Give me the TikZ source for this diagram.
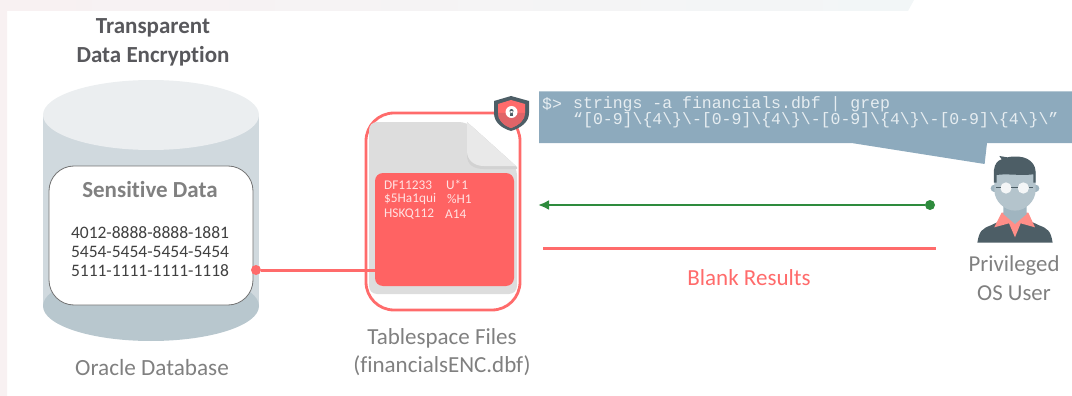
\documentclass[tikz,border=0pt]{standalone}
\usepackage{fontspec}
\setmainfont[Ligatures=NoCommon]{Carlito}
\newfontfamily\codefont{Liberation Mono}
\usetikzlibrary{arrows.meta}
\definecolor{cylbody}{HTML}{D0D9DE}
\definecolor{cyltop}{HTML}{EBEEF0}
\definecolor{cylbot}{HTML}{B8C7CE}
\definecolor{redline}{HTML}{FF6B6B}
\definecolor{redpanel}{HTML}{FF6363}
\definecolor{shieldlow}{HTML}{E06468}
\definecolor{filegray}{HTML}{DDDDDD}
\definecolor{foldgray}{HTML}{E9E9E9}
\definecolor{foldshade}{HTML}{D2D2D2}
\definecolor{bubble}{HTML}{8DAABD}
\definecolor{bubbletext}{HTML}{E6EDF1}
\definecolor{greenline}{HTML}{2E8B3D}
\definecolor{slatedark}{HTML}{4D5E66}
\definecolor{face}{HTML}{B4C4CC}
\definecolor{neck}{HTML}{A0B5C0}
\definecolor{collar}{HTML}{FF8E88}
\definecolor{bgleft}{HTML}{F8F1F2}
\definecolor{bgright}{HTML}{F2F6F7}
\definecolor{paneltext}{HTML}{FFE2E2}
\definecolor{softgray}{HTML}{808080}
\definecolor{titlegray}{HTML}{58585C}
\tikzset{
  x=1pt,y=-1pt,
  label/.style={inner sep=0,align=center,text=#1},
  sz/.style={node font=\fontsize{#1}{#1}\selectfont},
  paneltxt/.style={anchor=west,inner sep=0,text=paneltext,sz=13.3},
  codetxt/.style={anchor=west,inner sep=0,text=bubbletext,font=\codefont,sz=16.5},
  sensbox/.style={draw=black!55,line width=0.8pt,fill=white,rounded corners=25pt,minimum width=204pt,minimum height=139pt,inner sep=0},
  panelbox/.style={fill=redpanel,rounded corners=8pt,minimum width=139pt,minimum height=113pt,inner sep=0},
  reddot/.style={circle,fill=redline,minimum size=10pt,inner sep=0},
  greendot/.style={circle,fill=greenline,minimum size=10pt,inner sep=0},
  redconn/.style={draw=redline,line width=3pt},
  greenconn/.style={draw=greenline,line width=2.8pt,-{Latex[length=11pt,width=10pt]}},
}
\begin{document}
\begin{tikzpicture}
\useasboundingbox (0,0) rectangle (1072,396);
% pale background strip
\shade[left color=bgleft,right color=bgright]
  (0,0) -- (914,0) -- (908,11) -- (7,11) -- (7,396) -- (0,396) -- cycle;
% cylinder
\fill[cylbody] (43,115) rectangle (259,306);
\fill[cylbot] (151,306) ellipse [x radius=108,y radius=35];
\fill[cyltop] (151,115) ellipse [x radius=108,y radius=35];
\node[sensbox] (sens) at (151,235.5) {};
\node[label=titlegray,font=\bfseries,sz=23] (title1) at (153,28) {Transparent};
\node[label=titlegray,font=\bfseries,sz=23] (title2) at (153,56) {Data Encryption};
\node[label=softgray,font=\bfseries,sz=23] (senst) at (150,190) {Sensitive Data};
\node[label=black!75,sz=17.5] (n1) at (150,233) {4012-8888-8888-1881};
\node[label=black!75,sz=17.5] (n2) at (150,252) {5454-5454-5454-5454};
\node[label=black!75,sz=17.5] (n3) at (150,271) {5111-1111-1111-1118};
\node[label=softgray,sz=23.2] (oracle) at (152,368) {Oracle Database};
% file
\draw[redline,line width=2.8pt,rounded corners=28pt] (366,113) rectangle (520,310);
\fill[filegray,rounded corners=8pt] (369,122) -- (467,122) -- (517,167) -- (517,294) -- (369,294) -- cycle;
\fill[foldshade] (467,122) -- (467,155) .. controls (467,165) and (474,169) .. (484,169) -- (517,169) -- (517,167) -- cycle;
\fill[foldgray] (467,122) -- (467,151) .. controls (467,160) and (474,166) .. (484,166) -- (516,166) -- cycle;
\node[panelbox] (panel) at (444.5,229.5) {};
\node[paneltxt] (c1a) at (384,185) {DF11233};
\node[paneltxt] (c1b) at (446,185) {U*1};
\node[paneltxt] (c2a) at (384,199) {\$5Ha1qui};
\node[paneltxt] (c2b) at (447,199) {\%H1};
\node[paneltxt] (c3a) at (384,214) {HSKQ112};
\node[paneltxt] (c3b) at (445,214) {A14};
\node[label=softgray,sz=23] (ts1) at (442,338) {Tablespace Files};
\node[label=softgray,sz=23] (ts2) at (442,366) {(financialsENC.dbf)};
% shield
\fill[slatedark] (511,96) -- (494,101) -- (494,113) .. controls (494,122) and (501,128) .. (511,131) .. controls (521,128) and (529,122) .. (529,113) -- (529,101) -- cycle;
\fill[redline] (511,100) -- (498,104) -- (498,113) .. controls (498,120) and (503,125) .. (511,128) .. controls (519,125) and (525,120) .. (525,113) -- (525,104) -- cycle;
\fill[shieldlow] (498,113) .. controls (498,120) and (503,125) .. (511,128) .. controls (519,125) and (525,120) .. (525,113) -- cycle;
\fill[white] (511.5,112) circle [radius=6];
\fill[slatedark] (511.5,111) circle [radius=2] (510.5,111) -- (510,116) -- (513,116) -- (512.5,111) -- cycle;
% connector from data to file
\node[reddot] (sdot) at (256,270) {};
\draw[redconn] (sdot) -- (panel.west |- sdot);
% bubble
\fill[bubble] (539,91.5) -- (1072,91.5) -- (1072,143) -- (987,143) -- (984.6,164) -- (851.5,143) -- (539,143) -- cycle;
\node[codetxt] (p) at (542,104) {\$>};
\node[codetxt] (l1) at (573,104) {strings -a financials.dbf | grep};
\node[codetxt] (l2) at (573,120) {“[0-9]\textbackslash\{4\textbackslash\}\textbackslash-[0-9]\textbackslash\{4\textbackslash\}\textbackslash-[0-9]\textbackslash\{4\textbackslash\}\textbackslash-[0-9]\textbackslash\{4\textbackslash\}\textbackslash”};
% arrows
\node[greendot] (gdot) at (930,205) {};
\coordinate (gend) at (538,205);
\draw[greenconn] (gdot) -- (gend);
\coordinate (r1) at (543,248);
\coordinate (r2) at (936,248);
\draw[redconn] (r1) -- (r2);
\node[label=redline,sz=23] (blank) at (749,278) {Blank Results};
% person
\begin{scope}[shift={(900,140)},x=0.3333pt,y=-0.3333pt]
\fill[slatedark] (232,308) .. controls (238,272) and (246,266) .. (275,255) -- (310,238) -- (380,238) -- (415,255) .. controls (444,266) and (452,272) .. (458,308) -- cycle;
\fill[collar] (305,218) -- (283,262) -- (327,250) -- (345,292) -- (362,250) -- (405,262) -- (385,218) -- cycle;
\fill[neck] (310,195) -- (380,195) -- (380,222) -- (345,252) -- (310,222) -- cycle;
\fill[neck] (283,145) circle [radius=11] (407,145) circle [radius=11];
\fill[face] (283,95) -- (407,95) -- (407,150) .. controls (407,185) and (375,212) .. (345,212) .. controls (315,212) and (283,185) .. (283,150) -- cycle;
\fill[slatedark] (282,128) -- (282,90) .. controls (284,72) and (292,62) .. (305,58) -- (298,48) -- (322,52) .. controls (370,42) and (405,60) .. (407,95) -- (407,128) -- (400,128) -- (400,103) .. controls (360,108) and (320,100) .. (290,105) -- (290,128) -- cycle;
\fill[white!85!face] (318,144) circle [radius=17] (370,144) circle [radius=17];
\draw[slatedark,line width=1pt] (288,142) -- (302,142) (334,142) -- (354,142) (386,142) -- (400,142);
\end{scope}
\node[label=softgray,sz=22.8] (pu1) at (1014,266) {Privileged};
\node[label=softgray,sz=22.8] (pu2) at (1014,293) {OS User};
\end{tikzpicture}
\end{document}
